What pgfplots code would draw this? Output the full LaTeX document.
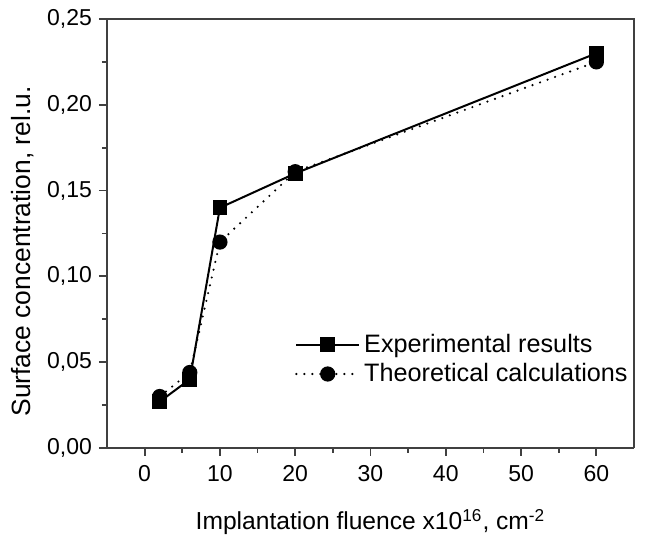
\documentclass[border=0pt]{standalone}
\usepackage{fontspec}
\setmainfont{Liberation Sans}
\usepackage{pgfplots}
\pgfplotsset{compat=1.18}
\begin{document}
\begin{tikzpicture}
\begin{axis}[
    name=ax,
    scale only axis,
    width=263.5pt, height=214.5pt,
    xmin=-5, xmax=65,
    ymin=0, ymax=0.25,
    xtick={0,10,...,60},
    ytick={0,0.05,...,0.25},
    minor x tick num=1,
    minor y tick num=1,
    axis x line*=bottom,
    axis y line*=left,
    tick align=outside,
    major tick length=4pt,
    minor tick length=2.5pt,
    axis line style={line width=0.9pt, black!75},
    every tick/.style={line width=0.9pt, black!75},
    font=\fontsize{11.5}{13}\selectfont,
    /pgf/number format/assume math mode=true,
    yticklabel style={/pgf/number format/.cd, fixed, fixed zerofill, precision=2, use comma},
    xticklabel style={yshift=-1pt},
    xlabel={Implantation fluence x10\textsuperscript{16}, cm\textsuperscript{-2}},
    ylabel={Surface concentration, rel.u.},
    xlabel style={at={(rel axis cs:0.5,0)}, yshift=-37pt, anchor=center,
        font=\fontsize{12.3}{14}\selectfont},
    ylabel style={at={(rel axis cs:0,0.5)}, rotate=0, yshift=42pt, xshift=-9pt, anchor=center,
        font=\fontsize{13.2}{15}\selectfont},
    legend style={draw=none, fill=none, at={(0.345,0.285)}, anchor=north west,
        font=\fontsize{12.6}{14}\selectfont, row sep=0pt},
    legend cell align=left,
    legend image code/.code={
        \draw[mark repeat=2,mark phase=2,#1] plot coordinates {(0cm,0cm) (0.55cm,0cm) (1.1cm,0cm)};
    },
    clip=false,
]
\draw[line width=0.9pt, black!75] (rel axis cs:0,1) -- (rel axis cs:1,1) -- (rel axis cs:1,0);
\addplot[black, line width=1pt, mark=square*, mark size=3.2pt]
    coordinates {(2,0.027) (6,0.040) (10,0.140) (20,0.160) (60,0.230)};
\addlegendentry{Experimental results}
\addplot[black, line width=1.2pt, line cap=round, dash pattern=on 0pt off 4pt, mark=*, mark size=3.2pt, mark options={solid}]
    coordinates {(2,0.030) (6,0.044) (10,0.120) (20,0.161) (60,0.225)};
\addlegendentry{Theoretical calculations}
\end{axis}
\pgfresetboundingbox
\path[use as bounding box] ([xshift=-53.5pt,yshift=-44.5pt]ax.south west) rectangle ([xshift=8pt,yshift=9.5pt]ax.north east);
\end{tikzpicture}
\end{document}
